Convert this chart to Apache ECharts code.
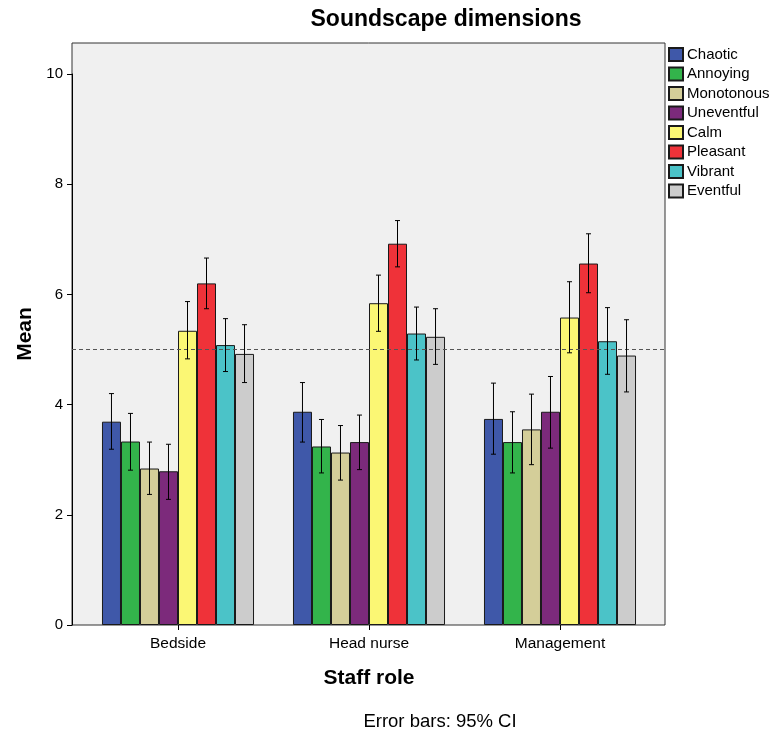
<!DOCTYPE html>
<html>
<head>
<meta charset="utf-8">
<script src="https://cdn.jsdelivr.net/npm/echarts@6/dist/echarts.min.js"></script>
<style>
  html, body { margin: 0; padding: 0; background: #ffffff; }
  #chart { width: 773px; height: 734px; }
</style>
</head>
<body>
<div id="chart"></div>
<script>
// Staff roles on the x axis
const roles = ['Bedside', 'Head nurse', 'Management'];

// Soundscape dimensions (one bar series each) and their fill colours
const dimensions = ['Chaotic', 'Annoying', 'Monotonous', 'Uneventful', 'Calm', 'Pleasant', 'Vibrant', 'Eventful'];
const dimColors = ['#3f58a9', '#33b44b', '#d4ce99', '#7c2a7b', '#fbf774', '#ef3239', '#4bc3c8', '#cccccc'];

// Mean score per dimension, in role order
const chaotic    = [3.69, 3.87, 3.74];
const annoying   = [3.33, 3.24, 3.32];
const monotonous = [2.84, 3.13, 3.55];
const uneventful = [2.79, 3.32, 3.87];
const calm       = [5.34, 5.84, 5.58];
const pleasant   = [6.20, 6.92, 6.56];
const vibrant    = [5.08, 5.29, 5.15];
const eventful   = [4.92, 5.23, 4.89];

// 95% confidence interval bounds, [low, high] per role
const chaoticCI    = [[3.19, 4.20], [3.32, 4.40], [3.10, 4.39]];
const annoyingCI   = [[2.81, 3.84], [2.76, 3.73], [2.76, 3.87]];
const monotonousCI = [[2.37, 3.32], [2.63, 3.62], [2.91, 4.19]];
const uneventfulCI = [[2.28, 3.28], [2.82, 3.81], [3.21, 4.51]];
const calmCI       = [[4.83, 5.87], [5.33, 6.35], [4.94, 6.23]];
const pleasantCI   = [[5.74, 6.66], [6.50, 7.34], [6.03, 7.10]];
const vibrantCI    = [[4.60, 5.56], [4.81, 5.77], [4.55, 5.76]];
const eventfulCI   = [[4.40, 5.45], [4.73, 5.74], [4.23, 5.54]];

// Neutral reference level on the scale
const neutral = 5;

// y-axis ticks
const yMin = 0, yMax = 10, yStep = 2;

const means = [chaotic, annoying, monotonous, uneventful, calm, pleasant, vibrant, eventful];
const cis = [chaoticCI, annoyingCI, monotonousCI, uneventfulCI, calmCI, pleasantCI, vibrantCI, eventfulCI];

const FONT = 'Liberation Sans, Arial, sans-serif';
const CAT_GAP = 0.204;

const chart = echarts.init(document.getElementById('chart'), null, { renderer: 'canvas' });

const barSeries = dimensions.map((name, i) => ({
  name: name,
  type: 'bar',
  xAxisIndex: 0,
  yAxisIndex: 0,
  data: means[i],
  barGap: '0%',
  barCategoryGap: (CAT_GAP * 100) + '%',
  itemStyle: { color: dimColors[i], borderColor: '#1a1a1a', borderWidth: 1 },
  emphasis: { disabled: true },
  z: 3
}));

// Error bars: one whisker per bar, placed at that bar's slot within the band
const errorData = [];
cis.forEach((ci, s) => {
  ci.forEach((pair, c) => errorData.push([c, pair[0], pair[1], s]));
});

const errorSeries = {
  type: 'custom',
  xAxisIndex: 0,
  yAxisIndex: 0,
  data: errorData,
  z: 10,
  silent: true,
  renderItem: function (params, api) {
    const c = api.value(0);
    const lo = api.value(1);
    const hi = api.value(2);
    const s = api.value(3);
    const band = api.size([1, 0])[0];
    const barW = band * (1 - CAT_GAP) / dimensions.length;
    const center = api.coord([c, lo])[0];
    const x = center + (s - (dimensions.length - 1) / 2) * barW;
    const yLo = api.coord([c, lo])[1];
    const yHi = api.coord([c, hi])[1];
    const cap = 2.5;
    const style = { stroke: '#000', lineWidth: 1 };
    return {
      type: 'group',
      children: [
        { type: 'line', shape: { x1: x, y1: yLo, x2: x, y2: yHi }, style: style },
        { type: 'line', shape: { x1: x - cap, y1: yHi, x2: x + cap, y2: yHi }, style: style },
        { type: 'line', shape: { x1: x - cap, y1: yLo, x2: x + cap, y2: yLo }, style: style }
      ]
    };
  }
};

// Dashed neutral line spanning the whole plot frame
const neutralSeries = {
  type: 'line',
  xAxisIndex: 1,
  yAxisIndex: 1,
  data: [[0, neutral], [1, neutral]],
  symbol: 'none',
  silent: true,
  lineStyle: { color: '#555', width: 1, type: [4, 3] },
  z: 4
};

const option = {
  backgroundColor: '#ffffff',
  animation: false,
  textStyle: { fontFamily: FONT },
  title: {
    text: 'Soundscape dimensions',
    left: 441,
    textAlign: 'center',
    top: 3,
    textStyle: { fontFamily: FONT, fontSize: 23, fontWeight: 'bold', color: '#000' }
  },
  legend: {
    orient: 'vertical',
    left: 663,
    top: 42,
    itemWidth: 14,
    itemHeight: 13,
    itemGap: 4.5,
    icon: 'rect',
    data: dimensions,
    textStyle: { fontFamily: FONT, fontSize: 15, lineHeight: 15, color: '#000', padding: [0, 0, 0, -1] },
    selectedMode: false
  },
  graphic: [
    {
      type: 'rect',
      shape: { x: 72, y: 43, width: 593, height: 582 },
      style: { fill: '#f0f0f0', stroke: '#333', lineWidth: 1 },
      z: -10,
      silent: true
    },
    {
      type: 'text',
      x: 25, y: 334,
      rotation: Math.PI / 2,
      style: { text: 'Mean', font: 'bold 21px ' + FONT, fill: '#000', textAlign: 'center', textVerticalAlign: 'middle' }
    },
    {
      type: 'text',
      x: 369, y: 678,
      style: { text: 'Staff role', font: 'bold 21px ' + FONT, fill: '#000', textAlign: 'center', textVerticalAlign: 'middle' }
    },
    {
      type: 'text',
      x: 440, y: 722,
      style: { text: 'Error bars: 95% CI', font: '18.5px ' + FONT, fill: '#000', textAlign: 'center', textVerticalAlign: 'middle' }
    }
  ],
  grid: [
    { left: 82.5, width: 573, top: 74, height: 551, containLabel: false },
    { left: 72, width: 593, top: 74, height: 551, containLabel: false }
  ],
  xAxis: [
    {
      type: 'category',
      gridIndex: 0,
      data: roles,
      boundaryGap: true,
      axisLine: { show: false },
      axisTick: { show: true, alignWithLabel: true, length: 5, lineStyle: { color: '#000' } },
      axisLabel: { color: '#000', fontSize: 15.5, fontFamily: FONT, margin: 11 },
      splitLine: { show: false }
    },
    {
      type: 'value',
      gridIndex: 1,
      min: 0, max: 1,
      show: false
    }
  ],
  yAxis: [
    {
      type: 'value',
      gridIndex: 0,
      min: yMin, max: yMax, interval: yStep,
      offset: 10.5,
      axisLine: { show: true, lineStyle: { color: '#000' } },
      axisTick: { show: true, length: 5, lineStyle: { color: '#000' } },
      axisLabel: { color: '#000', fontSize: 15, fontFamily: FONT, margin: 9 },
      splitLine: { show: false }
    },
    {
      type: 'value',
      gridIndex: 1,
      min: yMin, max: yMax,
      show: false
    }
  ],
  series: barSeries.concat([errorSeries, neutralSeries])
};

chart.setOption(option);
</script>
</body>
</html>
